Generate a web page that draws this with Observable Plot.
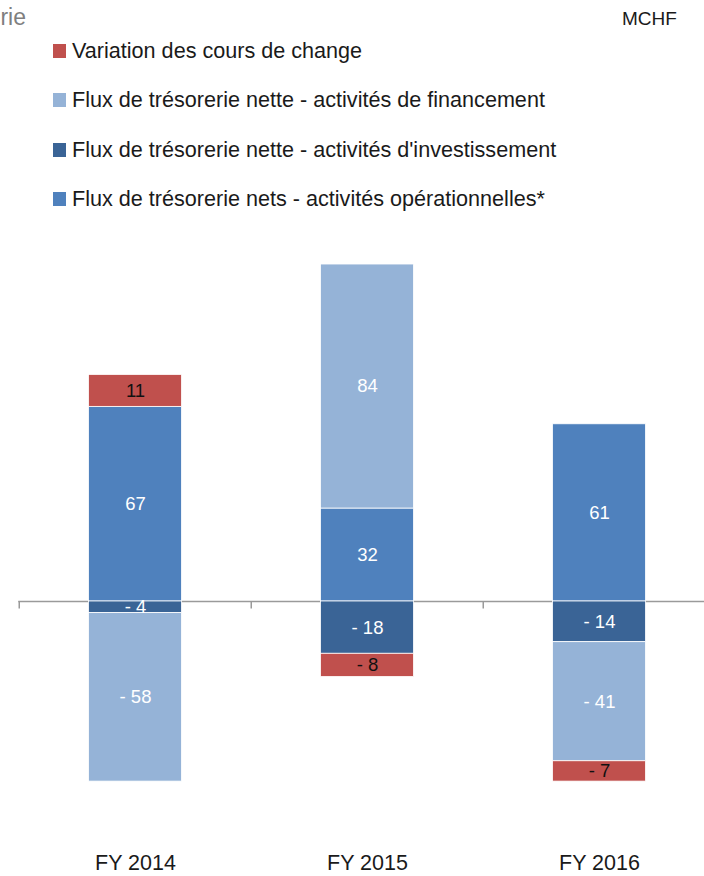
<!DOCTYPE html>
<html>
<head>
<meta charset="utf-8">
<script src="https://cdn.jsdelivr.net/npm/d3@7"></script>
<script src="https://cdn.jsdelivr.net/npm/@observablehq/plot@0.6"></script>
<style>
  html, body { margin: 0; padding: 0; background: #fff; }
  body { width: 704px; height: 876px; position: relative; overflow: hidden; font-family: "Liberation Sans", Arial, sans-serif; }
  #header { position: relative; width: 704px; height: 230px; }
  .title { position: absolute; right: 678px; top: 4px; font-size: 23px; color: #7f7f7f; white-space: nowrap; }
  .unit { position: absolute; left: 622px; top: 8px; font-size: 19px; color: #1a1a1a; }
  .item { position: absolute; left: 53px; height: 24px; display: flex; align-items: center; white-space: nowrap; font-size: 21.6px; color: #1a1a1a; }
  .sw { width: 13px; height: 14px; margin-right: 6px; }
  #chart svg { display: block; }
</style>
</head>
<body>
<div id="header"></div>
<div id="chart"></div>
<script>
// ---- data ----
const years = ["FY 2014", "FY 2015", "FY 2016"];
const seriesNames = [
  "Flux de trésorerie nets - activités opérationnelles*",
  "Flux de trésorerie nette - activités d'investissement",
  "Flux de trésorerie nette - activités de financement",
  "Variation des cours de change"
];
const operational = [67, 32, 61];
const investment = [-4, -18, -14];
const financing = [-58, 84, -41];
const currency = [11, -8, -7];
const seriesColors = ["#4f81bd", "#3a6496", "#95b3d7", "#c0504d"];
const legendOrder = [3, 2, 1, 0]; // indices into seriesNames, top to bottom
const titleText = "Trésorerie";
const unitText = "MCHF";

const seriesValues = [operational, investment, financing, currency];
const data = [];
seriesNames.forEach((s, i) => years.forEach((y, j) => data.push({ year: y, series: s, value: seriesValues[i][j] })));

const fmt = v => v < 0 ? "- " + Math.abs(v) : String(v);
const isCur = d => d.series === seriesNames[3];

// ---- header (title, unit, legend) ----
const header = document.getElementById("header");
const t = document.createElement("div"); t.className = "title"; t.textContent = titleText; header.appendChild(t);
const u = document.createElement("div"); u.className = "unit"; u.textContent = unitText; header.appendChild(u);
const rowCenters = [51, 100, 150, 199];
legendOrder.forEach((si, r) => {
  const it = document.createElement("div");
  it.className = "item";
  it.style.top = (rowCenters[r] - 12) + "px";
  const sw = document.createElement("span"); sw.className = "sw"; sw.style.background = seriesColors[si];
  const tx = document.createElement("span"); tx.textContent = seriesNames[si];
  it.appendChild(sw); it.appendChild(tx);
  header.appendChild(it);
});

// ---- chart ----
const stackOpts = { x: "year", y: "value", z: "series", order: seriesNames };
const chart = Plot.plot({
  width: 704,
  height: 646,
  marginLeft: 18.3,
  marginRight: -11.8,
  marginTop: 22.4,
  marginBottom: 42.6,
  style: { fontFamily: "Liberation Sans, Arial, sans-serif", background: "white", overflow: "hidden" },
  x: { domain: years, padding: 0, label: null },
  y: { domain: [-80, 120], axis: null },
  color: { domain: seriesNames, range: seriesColors },
  marks: [
    Plot.ruleY([0], { stroke: "#9a9a9a", strokeWidth: 1.5 }),
    Plot.ruleX(years, { x: d => d, y1: 0, y2: -2.6, dx: -116.25, stroke: "#9a9a9a", strokeWidth: 1.5 }),
    Plot.barY(data, Plot.stackY({ ...stackOpts, fill: "series", insetLeft: 69.5, insetRight: 69.5, stroke: "white", strokeWidth: 0.8 })),
    Plot.text(data, Plot.stackY({ ...stackOpts, text: d => isCur(d) ? "" : fmt(d.value), fill: "white", fontSize: 18.5 })),
    Plot.text(data, Plot.stackY({ ...stackOpts, text: d => isCur(d) ? fmt(d.value) : "", fill: "#111", fontSize: 18.5 })),
    Plot.axisX({ tickSize: 0, tickPadding: 21, fontSize: 21.5, fill: "#1a1a1a", label: null })
  ]
});
document.getElementById("chart").appendChild(chart);
</script>
</body>
</html>
